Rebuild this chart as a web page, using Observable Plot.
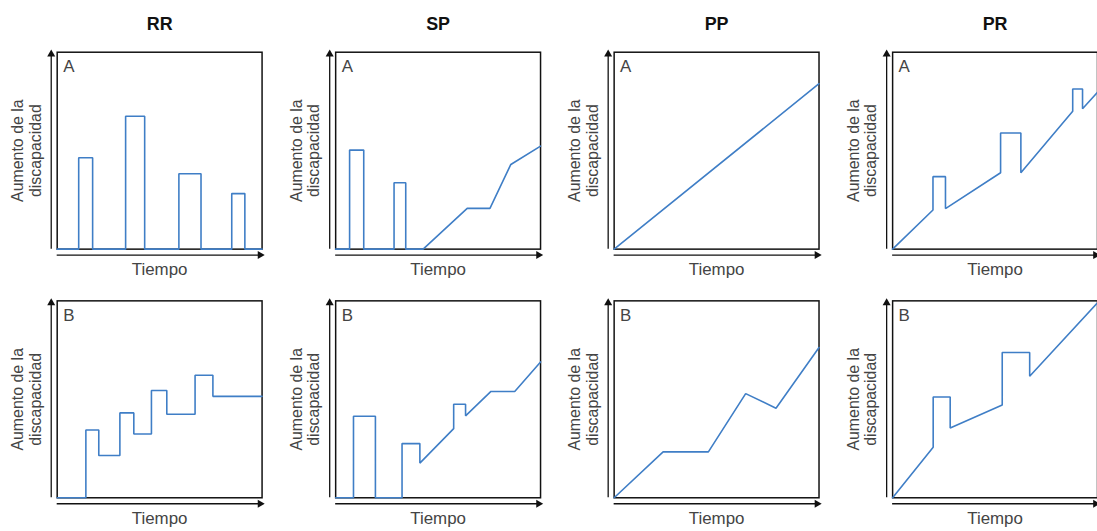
<!DOCTYPE html>
<html>
<head>
<meta charset="utf-8">
<script src="https://cdn.jsdelivr.net/npm/d3@7"></script>
<script src="https://cdn.jsdelivr.net/npm/@observablehq/plot@0.6"></script>
<style>
  html, body { margin: 0; padding: 0; background: #fff; overflow: hidden; }
</style>
</head>
<body>
<div id="chart"></div>
<script>
// Column (pattern) names and row (scenario) names
const cols = ["RR", "SP", "PP", "PR"];
const rows = ["A", "B"];
const yLabel = "Aumento de la\ndiscapacidad";
const xLabel = "Tiempo";

// Each series: time (t, 0–100) and disability increase (v, 0–100)
const rrA_t = [0, 10.5, 10.5, 17.3, 17.3, 33.4, 33.4, 42.7, 42.7, 59.4, 59.4, 70.2, 70.2, 85.2, 85.2, 91.6, 91.6, 100];
const rrA_v = [0, 0, 46.4, 46.4, 0, 0, 67.5, 67.5, 0, 0, 38.3, 38.3, 0, 0, 28.2, 28.2, 0, 0];

const spA_t = [0, 6.8, 6.8, 13.7, 13.7, 28.5, 28.5, 34.2, 34.2, 42.7, 64.2, 75.3, 85.5, 100];
const spA_v = [0, 0, 50.3, 50.3, 0, 0, 33.7, 33.7, 0, 0, 20.7, 20.7, 43.0, 52.3];

const ppA_t = [0, 100];
const ppA_v = [0, 84.0];

const prA_t = [0, 19.7, 19.7, 25.8, 25.8, 52.7, 52.7, 62.6, 62.6, 87.9, 87.9, 92.7, 92.7, 100];
const prA_v = [0, 19.9, 36.8, 36.8, 20.6, 38.8, 59.0, 59.0, 38.8, 70.0, 81.3, 81.3, 71.3, 79.6];

const rrB_t = [0, 14.0, 14.0, 20.3, 20.3, 30.6, 30.6, 37.4, 37.4, 46.0, 46.0, 53.5, 53.5, 67.3, 67.3, 76.0, 76.0, 100];
const rrB_v = [0, 0, 34.4, 34.4, 21.5, 21.5, 43.1, 43.1, 32.4, 32.4, 54.5, 54.5, 42.4, 42.4, 62.2, 62.2, 51.5, 51.5];

const spB_t = [0, 8.7, 8.7, 19.4, 19.4, 32.4, 32.4, 41.1, 41.1, 57.6, 57.6, 63.4, 63.4, 75.8, 87.4, 100];
const spB_v = [0, 0, 41.4, 41.4, 0, 0, 27.5, 27.5, 17.6, 35.1, 47.5, 47.5, 41.6, 54.0, 54.0, 69.0];

const ppB_t = [0, 23.9, 46.0, 64.2, 79.0, 100];
const ppB_v = [0, 23.3, 23.3, 52.9, 45.5, 76.3];

const prB_t = [0, 19.8, 19.8, 28.1, 28.1, 53.5, 53.5, 66.9, 66.9, 100];
const prB_v = [0, 25.7, 51.2, 51.2, 35.4, 47.1, 73.8, 73.8, 61.7, 99];

const series = [
  ["RR", "A", rrA_t, rrA_v], ["SP", "A", spA_t, spA_v], ["PP", "A", ppA_t, ppA_v], ["PR", "A", prA_t, prA_v],
  ["RR", "B", rrB_t, rrB_v], ["SP", "B", spB_t, spB_v], ["PP", "B", ppB_t, ppB_v], ["PR", "B", prB_t, prB_v]
];
const table = series.flatMap(([col, row, ts, vs]) =>
  ts.map((t, i) => ({col, row, key: col + row, t, v: vs[i]})));
const panels = series.map(([col, row]) => ({col, row}));

const lineColor = "#3f7ec6";
const textColor = "#444";
const narrow = "'Liberation Sans Narrow', 'Arial Narrow', 'Liberation Sans', sans-serif";

const chart = Plot.plot({
  width: 1103,
  height: 531,
  marginLeft: 57,
  marginRight: 0,
  marginTop: 52,
  marginBottom: 31,
  fx: {domain: cols, paddingInner: 74 / 280, paddingOuter: 0, axis: null},
  fy: {domain: rows, paddingInner: 52 / 250, paddingOuter: 0, axis: null},
  x: {domain: [0, 100], axis: null},
  y: {domain: [0, 100], axis: null},
  style: {fontFamily: "'Liberation Sans', Arial, sans-serif", background: "white", overflow: "visible"},
  marks: [
    Plot.frame({stroke: "#111", strokeWidth: 1.5}),
    // axis arrows
    Plot.ruleX([0], {y1: 0, y2: 100, dx: -6, stroke: "#111", strokeWidth: 1.3}),
    Plot.ruleY([0], {x1: 0, x2: 100, dy: 6, stroke: "#111", strokeWidth: 1.3}),
    Plot.dot([{t: 0, v: 100}], {x: "t", y: "v", symbol: "triangle", r: 3, fill: "#111", stroke: null, dx: -6, dy: 2}),
    Plot.dot([{t: 100, v: 0}], {x: "t", y: "v", symbol: "triangle", r: 3, fill: "#111", stroke: null, dy: 6, dx: -2, rotate: 90}),
    // data lines
    Plot.line(table, {x: "t", y: "v", z: "key", fx: "col", fy: "row", stroke: lineColor, strokeWidth: 1.6, strokeLinejoin: "miter"}),
    // panel letters
    Plot.text(panels, {fx: "col", fy: "row", text: "row", frameAnchor: "top-left", dx: 6, dy: 8, lineAnchor: "top", textAnchor: "start", fontSize: 17, fontFamily: narrow, fill: textColor}),
    // column titles
    Plot.text(cols, {fx: d => d, fy: () => "A", text: d => d, frameAnchor: "top", dy: -28, lineAnchor: "middle", fontSize: 18, fontWeight: "bold", fontFamily: narrow, fill: "#111"}),
    // axis labels
    Plot.text([xLabel], {frameAnchor: "bottom", dy: 21, lineAnchor: "middle", fontSize: 17, fontFamily: narrow, fill: textColor}),
    Plot.text([yLabel], {frameAnchor: "left", rotate: -90, dx: -31, lineAnchor: "middle", textAnchor: "middle", fontSize: 16, lineHeight: 1.12, fill: textColor})
  ]
});
document.getElementById("chart").appendChild(chart);
</script>
</body>
</html>
